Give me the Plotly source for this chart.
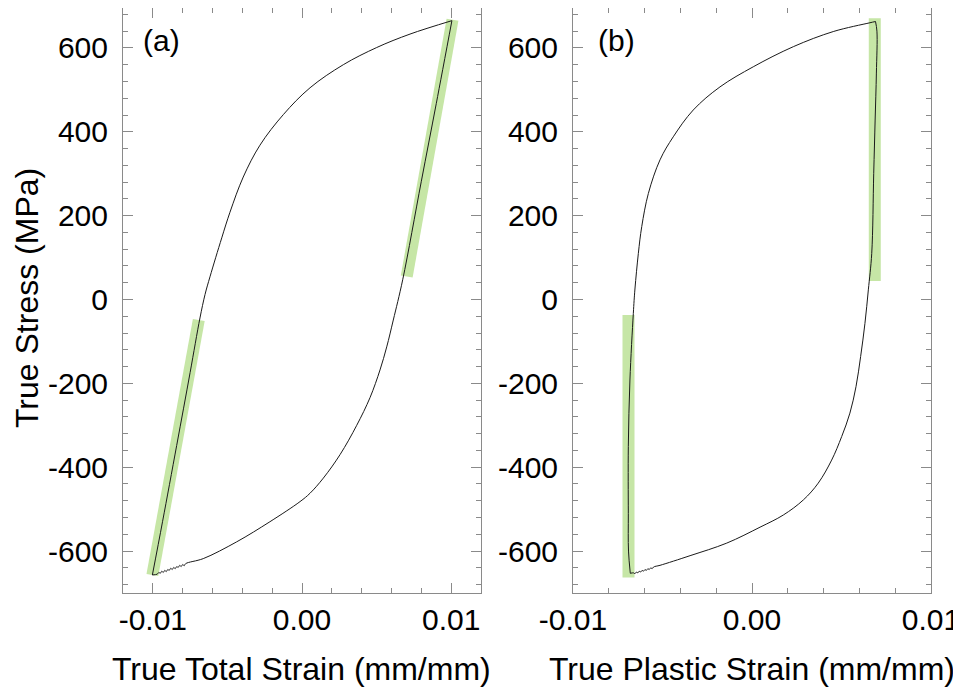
import plotly.graph_objects as go

# ---------------- data ----------------
# Panel (a): true total strain vs true stress
a_up_strain = [-0.01003, -0.00935, -0.00840, -0.00750, -0.00684, -0.00650, -0.00617, -0.00538,
               -0.00483, -0.00394, -0.00282, -0.00125, 0.00054, 0.00277, 0.00501, 0.00724, 0.01005]
a_up_stress = [-657, -530, -348, -174, -44, 12, 54, 147, 208, 292, 368, 441, 505, 560, 601, 633, 665]

a_dn_strain = [0.01005, 0.00900, 0.00800, 0.00675, 0.00612, 0.00568, 0.00523, 0.00456, 0.00367,
               0.00255, 0.00143, 0.00054, -0.00013, -0.00215, -0.00438, -0.00662,
               -0.0078, -0.0079, -0.0080, -0.0081, -0.0082, -0.0083, -0.0084, -0.0085, -0.0086,
               -0.0087, -0.0088, -0.0089, -0.0090, -0.0091, -0.0092, -0.0093, -0.0094, -0.0095,
               -0.0096, -0.0097, -0.01003]
a_dn_stress = [665, 467, 282, 47, -49, -113, -168, -234, -300, -370, -426, -462, -482, -530, -578, -618,
               -630, -635, -632, -637, -634, -639, -637, -642, -639, -644, -641, -646, -644, -649,
               -646, -651, -648, -653, -651, -655, -657]

# Panel (b): true plastic strain vs true stress
b_up_strain = [-0.00680, -0.00690, -0.00691, -0.00691, -0.00682, -0.00663, -0.00654, -0.00635,
               -0.00616, -0.00579, -0.00514, -0.00440, -0.00328, -0.00179, 0.00007, 0.00231,
               0.00454, 0.00659, 0.00690]
b_up_stress = [-653, -600, -510, -351, -192, -33, 25, 110, 174, 253, 333, 388, 452, 507, 555, 603,
               639, 660, 663]

b_dn_strain = [0.00690, 0.00698, 0.00695, 0.00688, 0.00680, 0.00669, 0.00650, 0.00631, 0.00607,
               0.00581, 0.00547, 0.00501, 0.00445, 0.00370, 0.00287, 0.00175, 0.00045, -0.00141,
               -0.00346, -0.00514,
               -0.00550, -0.00558, -0.00566, -0.00574, -0.00582, -0.00590, -0.00598, -0.00606,
               -0.00614, -0.00622, -0.00630, -0.00638, -0.00646, -0.00654, -0.00662, -0.00680]
b_dn_stress = [663, 640, 540, 428, 300, 110, 23, -57, -136, -208, -271, -327, -383, -438, -478,
               -514, -543, -581, -611, -634,
               -638, -642, -640, -644, -642, -646, -644, -648, -646, -650, -648, -652, -650,
               -654, -652, -653]

# Green highlighted elastic segments
band_a1_strain = [-0.01003, -0.00692]
band_a1_stress = [-657, -49]
band_a2_strain = [0.00702, 0.01009]
band_a2_stress = [55, 667]
band_b1_strain = [-0.00690, -0.00690]
band_b1_stress = [-663, -37]
band_b2_strain = [0.00686, 0.00686]
band_b2_stress = [44, 671]

x_ticks = [-0.01, 0.0, 0.01]
x_ticktext = ["-0.01", "0.00", "0.01"]
y_ticks = [-600, -400, -200, 0, 200, 400, 600]
y_ticktext = ["-600", "-400", "-200", "0", "200", "400", "600"]

# ---------------- figure ----------------
W, H = 961, 689
OFF = 8  # page body margin offset of the figure inside the window
GREEN = "rgb(198,230,166)"
CURVE = "#1a1a1a"
AXC = "#8a8a8a"
FONT = "Liberation Sans, Arial, sans-serif"

fig = go.Figure()

def band(x, y, xa, ya):
    fig.add_trace(go.Scatter(x=x, y=y, mode="lines", xaxis=xa, yaxis=ya,
                             line=dict(color=GREEN, width=12), hoverinfo="skip",
                             showlegend=False))

def curve(x, y, xa, ya):
    fig.add_trace(go.Scatter(x=x, y=y, mode="lines", xaxis=xa, yaxis=ya,
                             line=dict(color=CURVE, width=1, shape="spline", smoothing=1.0),
                             showlegend=False))

band(band_a1_strain, band_a1_stress, "x", "y")
band(band_a2_strain, band_a2_stress, "x", "y")
band(band_b1_strain, band_b1_stress, "x2", "y2")
band(band_b2_strain, band_b2_stress, "x2", "y2")
curve(a_up_strain, a_up_stress, "x", "y")
curve(a_dn_strain, a_dn_stress, "x", "y")
curve(b_up_strain, b_up_stress, "x2", "y2")
curve(b_dn_strain, b_dn_stress, "x2", "y2")

def px_x(v):
    return (v - OFF) / W

def px_y(v):
    return 1 - (v - OFF) / H

def xax(l, r, rng, anchor):
    return dict(domain=[px_x(l), px_x(r)], range=rng, anchor=anchor,
                tickmode="array", tickvals=x_ticks, ticktext=x_ticktext,
                ticks="inside", ticklen=10, tickwidth=1, tickcolor=AXC,
                minor=dict(dtick=0.002, tick0=0, ticks="inside", ticklen=5, tickcolor=AXC, tickwidth=1),
                showline=True, linecolor=AXC, linewidth=1, mirror="ticks",
                showgrid=False, zeroline=False, automargin=False,
                tickfont=dict(family=FONT, size=30, color="black"),
                ticklabelstandoff=0)

def yax(anchor):
    return dict(domain=[px_y(593), 1.0], range=[-700, 695.2], anchor=anchor,
                tickmode="array", tickvals=y_ticks, ticktext=y_ticktext,
                ticks="inside", ticklen=10, tickwidth=1, tickcolor=AXC,
                minor=dict(dtick=40, tick0=0, ticks="inside", ticklen=5, tickcolor=AXC, tickwidth=1),
                showline=True, linecolor=AXC, linewidth=1, mirror="ticks",
                showgrid=False, zeroline=False, automargin=False,
                tickfont=dict(family=FONT, size=30, color="black"),
                ticklabelstandoff=8)

fig.update_layout(
    width=W, height=H,
    margin=dict(l=0, r=0, t=0, b=0),
    paper_bgcolor="white", plot_bgcolor="white",
    xaxis=xax(123, 481, [-0.012, 0.012], "y"),
    xaxis2=xax(573, 931, [-0.010001, 0.010001], "y2"),
    yaxis=yax("x"),
    yaxis2=yax("x2"),
    showlegend=False,
    font=dict(family=FONT, color="black"),
)

ann_font = dict(family=FONT, size=30, color="black")
title_font = dict(family=FONT, size=32, color="black")

def label(text, x, y, font, angle=0):
    fig.add_annotation(text=text, x=px_x(x), y=px_y(y), xref="paper", yref="paper",
                       showarrow=False, font=font, xanchor="center", yanchor="middle",
                       textangle=angle)

label("(a)", 161, 41, ann_font)
label("(b)", 616, 41, ann_font)
label("True Total Strain (mm/mm)", 301.5, 669, title_font)
label("True Plastic Strain (mm/mm)", 752, 669, title_font)
label("True Stress (MPa)", 27, 298, title_font, -90)

fig.write_html("out.html")
